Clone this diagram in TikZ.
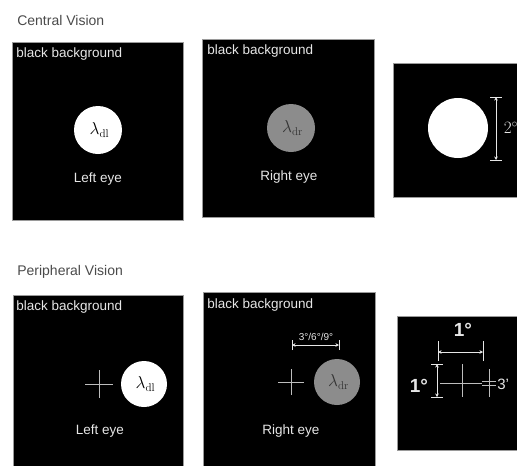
\documentclass[tikz,border=0pt]{standalone}
\usepackage{fontspec}
\setsansfont{Liberation Sans}
\usetikzlibrary{arrows.meta, positioning}
\definecolor{cpanel}{HTML}{000000}
\definecolor{cedge}{HTML}{9A9A9A}
\definecolor{ctext}{HTML}{E6E6E6}
\definecolor{chead}{HTML}{4A4A4A}
\definecolor{cgrey}{HTML}{8C8C8C}
\definecolor{cline}{HTML}{BDBDBD}
\tikzset{
  every picture/.style={x=1pt, y=-1pt, line width=0.6pt},
  panel/.style={draw=cedge, fill=cpanel, line width=0.9pt},
  heading/.style={font=\sffamily\fontsize{14}{16}\selectfont, text=chead, anchor=west, inner sep=0pt},
  lbl/.style={font=\sffamily\fontsize{13.5}{15}\selectfont, text=ctext, inner sep=0pt},
  bg/.style={lbl, anchor=west},
  stim/.style={circle, fill=#1, minimum size=48pt, inner sep=0pt, font=\fontsize{16}{18}\selectfont},
  stim/.default=white,
  fixline/.style={draw=cline, line width=0.6pt},
  dimline/.style={draw=ctext, line width=0.7pt, {Stealth[length=3.5pt, width=3.5pt]}-{Stealth[length=3.5pt, width=3.5pt]}},
  dimbar/.style={draw=ctext, line width=0.7pt},
  deg/.style={font=\sffamily\bfseries\fontsize{19}{21}\selectfont, text=ctext, inner sep=0pt},
}
\begin{document}
\begin{tikzpicture}
  \useasboundingbox (0,0) rectangle (517,466);
  \clip (0,0) rectangle (517,466);
  % central vision
  \node[heading] (hc) at (17,20) {Central Vision};
  \draw[panel] (12,42) rectangle (183,220);
  \draw[panel] (202,39) rectangle (374,217);
  \draw[panel] (393,63) rectangle (525,197);
  \node[bg] (b1) at (16,54) {black background};
  \node[bg] (b2) at (207,51) {black background};
  \node[stim] (sl) at (98,130) {\hspace{3pt}$\lambda_{\mathrm{dl}}$};
  \node[stim=cgrey, text=black!80] (sr) at (291,128) {\hspace{3pt}$\lambda_{\mathrm{dr}}$};
  \node[lbl] (le) at (98,179) {Left eye};
  \node[lbl] (re) at (289,177) {Right eye};
  \node[stim, minimum size=60pt] (sc) at (458,128) {};
  \coordinate (d1) at (496,97);
  \coordinate (d2) at (496,160);
  \draw[dimline] (d1) -- (d2);
  \draw[dimbar] ([xshift=-6pt]d1) -- ([xshift=6pt]d1);
  \draw[dimbar] ([xshift=-6pt]d2) -- ([xshift=6pt]d2);
  \node[text=ctext, font=\fontsize{17}{19}\selectfont, inner sep=0pt] (t2) at (511,128) {$2^\circ$};
  % peripheral vision
  \node[heading] (hp) at (17,272) {Peripheral Vision};
  \draw[panel] (13,295) rectangle (183,480);
  \draw[panel] (203,292) rectangle (375,480);
  \draw[panel] (397,316) rectangle (525,450);
  \node[bg] (b4) at (16,307) {black background};
  \node[bg] (b5) at (207,305) {black background};
  \coordinate (f4) at (99,384);
  \draw[fixline] ([xshift=-14pt]f4) -- ([xshift=14pt]f4);
  \draw[fixline] ([yshift=-14pt]f4) -- ([yshift=14pt]f4);
  \node[stim, minimum size=46pt] (pl) at (144,384) {\hspace{3pt}$\lambda_{\mathrm{dl}}$};
  \node[lbl] (pe) at (100,431) {Left eye};
  \coordinate (f5) at (291,382);
  \draw[fixline] ([xshift=-13pt]f5) -- ([xshift=13pt]f5);
  \draw[fixline] ([yshift=-13pt]f5) -- ([yshift=13pt]f5);
  \node[stim=cgrey, minimum size=46pt, text=black!80] (pr) at (337,382) {\hspace{3pt}$\lambda_{\mathrm{dr}}$};
  \node[lbl] (pf) at (291,431) {Right eye};
  \coordinate (e1) at (292,345);
  \coordinate (e2) at (339,345);
  \draw[dimline] (e1) -- (e2);
  \draw[dimbar] ([yshift=-5pt]e1) -- ([yshift=5pt]e1);
  \draw[dimbar] ([yshift=-5pt]e2) -- ([yshift=5pt]e2);
  \node[text=ctext, font=\sffamily\fontsize{10}{11}\selectfont, inner sep=0pt] (ecc) at (316,337) {3°/6°/9°};
  % fixation detail
  \coordinate (f6) at (462,383);
  \coordinate (g1) at (438,352);
  \coordinate (g2) at (483,352);
  \draw[dimline] (g1) -- (g2);
  \draw[dimbar] ([yshift=-9pt]g1) -- ([yshift=11pt]g1);
  \draw[dimbar] ([yshift=-9pt]g2) -- ([yshift=11pt]g2);
  \node[deg] (w1) at (463,330) {1°};
  \coordinate (h1) at (437,364);
  \coordinate (h2) at (437,397);
  \draw[dimline] (h1) -- (h2);
  \draw[dimbar] ([xshift=-6pt]h1) -- ([xshift=6pt]h1);
  \draw[dimbar] ([xshift=-6pt]h2) -- ([xshift=6pt]h2);
  \node[deg] (w2) at (419,386) {1°};
  \coordinate (tg) at (489,383);
  \draw[fixline] (440,383) -- (482,383);
  \draw[fixline] (f6 |- h1) -- (f6 |- h2);
  \draw[fixline] ([yshift=-14pt]tg) -- ([yshift=14pt]tg);
  \draw[fixline] ([xshift=-7pt, yshift=-2pt]tg) -- ([xshift=7pt, yshift=-2pt]tg);
  \draw[fixline] ([xshift=-7pt, yshift=2pt]tg) -- ([xshift=7pt, yshift=2pt]tg);
  \node[lbl, anchor=west, font=\sffamily\fontsize{15}{17}\selectfont] (t3) at (497,384) {3'};
\end{tikzpicture}
\end{document}
